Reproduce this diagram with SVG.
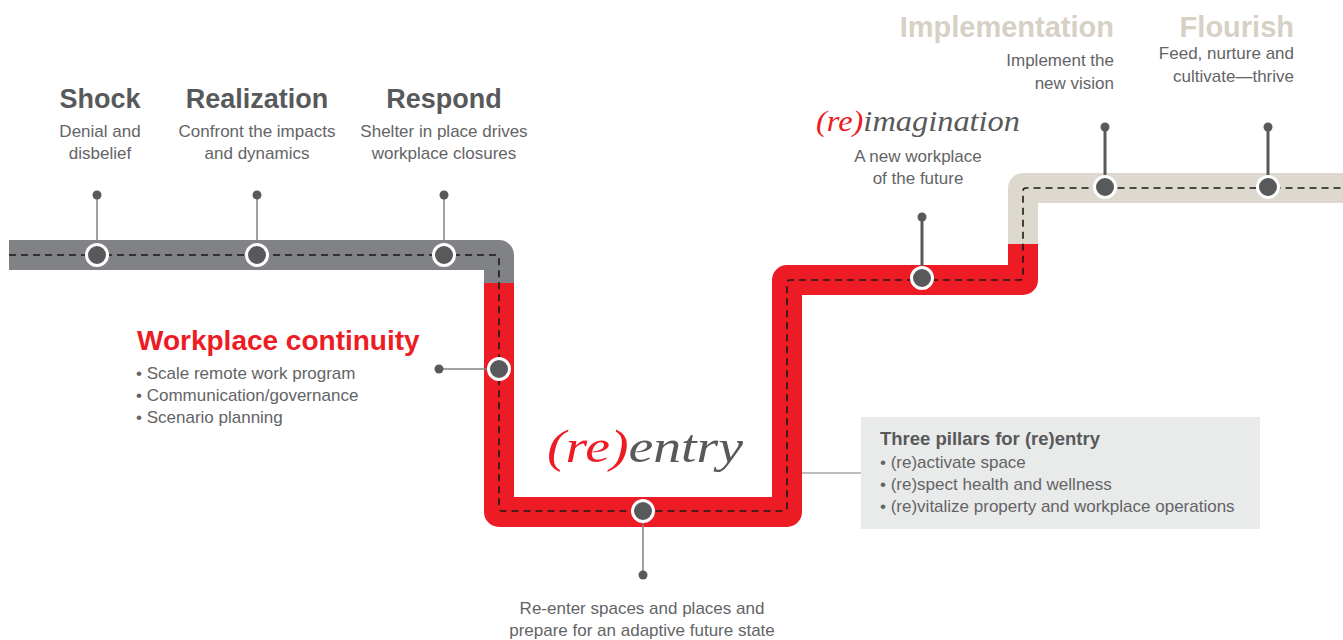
<svg xmlns="http://www.w3.org/2000/svg" width="1343" height="640" viewBox="0 0 1343 640">
<style>
.t{font-family:"Liberation Sans",Arial,sans-serif;fill:#58595B}
.h{font-weight:bold;font-size:27px}
.b{font-size:17px;fill:#636466}
.bg{font-weight:bold;font-size:29px;fill:#D6D1C4}
.sc{font-family:"Liberation Serif",serif;font-style:italic}
.band{fill:none;stroke-width:30;stroke-linejoin:round;stroke-linecap:butt}
.dash{fill:none;stroke:#1a1a1a;stroke-width:1.6;stroke-dasharray:7 5}
.node{fill:#58595B;stroke:#fff;stroke-width:3}
.dot{fill:#58595B}
.stem{stroke:#808285;stroke-width:1.5}
.stemb{stroke:#58595B;stroke-width:3}
</style>
<g id="track">
<path class="band" stroke="#808285" d="M9 255 H499 V283"/>
<path class="band" stroke="#ED1C24" d="M499 283 V512 H787 V280 H1023 V244"/>
<path class="band" stroke="#DDD9CE" d="M1023 244 V188 H1343"/>
<path class="dash" d="M9 255 H496 Q499 255 499 258 V508 Q499 511 502 511 H784 Q787 511 787 508 V283 Q787 280 790 280 H1020 Q1023 280 1023 277 V191 Q1023 188 1026 188 H1343"/>
</g>
<g id="connectors">
<line class="stem" x1="97" y1="195" x2="97" y2="255"/>
<line class="stem" x1="257" y1="195" x2="257" y2="255"/>
<line class="stem" x1="444" y1="195" x2="444" y2="255"/>
<line class="stem" x1="439" y1="369" x2="499" y2="369"/>
<line class="stem" x1="643" y1="511" x2="643" y2="575"/>
<line class="stemb" x1="922" y1="217" x2="922" y2="278"/>
<line class="stemb" x1="1105" y1="127" x2="1105" y2="187"/>
<line class="stemb" x1="1268" y1="127" x2="1268" y2="187"/>
<line stroke="#A7A9AC" stroke-width="1.5" x1="802" y1="473" x2="861" y2="473"/>
</g>
<g id="shock">
<circle class="dot" cx="97" cy="195" r="4.5"/>
<circle class="node" cx="97" cy="255" r="10.5"/>
<text class="t h" x="100" y="108" text-anchor="middle">Shock</text>
<text class="t b" x="100" y="137" text-anchor="middle">Denial and</text>
<text class="t b" x="100" y="159" text-anchor="middle">disbelief</text>
</g>
<g id="realization">
<circle class="dot" cx="257" cy="195" r="4.5"/>
<circle class="node" cx="257" cy="255" r="10.5"/>
<text class="t h" x="257" y="108" text-anchor="middle">Realization</text>
<text class="t b" x="257" y="137" text-anchor="middle">Confront the impacts</text>
<text class="t b" x="257" y="159" text-anchor="middle">and dynamics</text>
</g>
<g id="respond">
<circle class="dot" cx="444" cy="195" r="4.5"/>
<circle class="node" cx="444" cy="255" r="10.5"/>
<text class="t h" x="444" y="108" text-anchor="middle">Respond</text>
<text class="t b" x="444" y="137" text-anchor="middle">Shelter in place drives</text>
<text class="t b" x="444" y="159" text-anchor="middle">workplace closures</text>
</g>
<g id="continuity">
<circle class="dot" cx="439" cy="369" r="4.5"/>
<circle class="node" cx="499" cy="369" r="10.5"/>
<text class="t h" x="137" y="350" style="fill:#ED1C24;font-size:28px">Workplace continuity</text>
<text class="t b" x="136" y="379">• Scale remote work program</text>
<text class="t b" x="136" y="401">• Communication/governance</text>
<text class="t b" x="136" y="423">• Scenario planning</text>
</g>
<g id="reentry">
<circle class="node" cx="643" cy="511" r="10.5"/>
<circle class="dot" cx="643" cy="575" r="4.5"/>
<text class="sc" x="547" y="462" font-size="46" textLength="196" lengthAdjust="spacingAndGlyphs"><tspan fill="#ED1C24">(re)</tspan><tspan fill="#58595B">entry</tspan></text>
<text class="t b" x="642" y="614" text-anchor="middle">Re-enter spaces and places and</text>
<text class="t b" x="642" y="636" text-anchor="middle">prepare for an adaptive future state</text>
</g>
<g id="pillars">
<rect x="861" y="417" width="399" height="112" fill="#E9EAEA"/>
<text class="t" x="880" y="445" font-size="18.5" font-weight="bold">Three pillars for (re)entry</text>
<text class="t b" x="880" y="468">• (re)activate space</text>
<text class="t b" x="880" y="490">• (re)spect health and wellness</text>
<text class="t b" x="880" y="512">• (re)vitalize property and workplace operations</text>
</g>
<g id="reimagination">
<circle class="dot" cx="922" cy="217" r="4.5"/>
<circle class="node" cx="922" cy="278" r="10.5"/>
<text class="sc" x="816" y="131" font-size="29" textLength="204" lengthAdjust="spacingAndGlyphs"><tspan fill="#ED1C24">(re)</tspan><tspan fill="#58595B">imagination</tspan></text>
<text class="t b" x="918" y="162" text-anchor="middle">A new workplace</text>
<text class="t b" x="918" y="184" text-anchor="middle">of the future</text>
</g>
<g id="implementation">
<circle class="dot" cx="1105" cy="127" r="4.5"/>
<circle class="node" cx="1105" cy="187" r="10.5"/>
<text class="t bg" x="1114" y="37" text-anchor="end">Implementation</text>
<text class="t b" x="1114" y="66" text-anchor="end">Implement the</text>
<text class="t b" x="1114" y="89" text-anchor="end">new vision</text>
</g>
<g id="flourish">
<circle class="dot" cx="1268" cy="127" r="4.5"/>
<circle class="node" cx="1268" cy="187" r="10.5"/>
<text class="t bg" x="1294" y="37" text-anchor="end">Flourish</text>
<text class="t b" x="1294" y="59" text-anchor="end">Feed, nurture and</text>
<text class="t b" x="1294" y="82" text-anchor="end">cultivate—thrive</text>
</g>
</svg>
